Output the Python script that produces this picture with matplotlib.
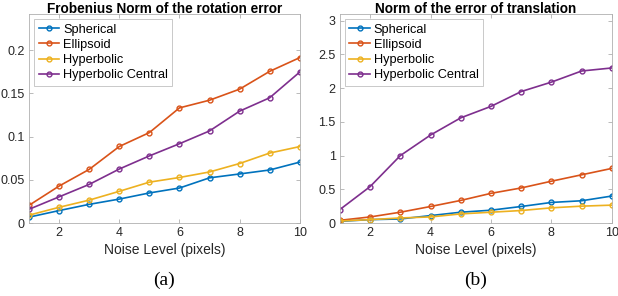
import numpy as np
import matplotlib
matplotlib.use("Agg")
import matplotlib.pyplot as plt

plt.rcParams['font.family'] = ['Liberation Sans', 'DejaVu Sans']

noise = [1, 2, 3, 4, 5, 6, 7, 8, 9, 10]
labels = ['Spherical', 'Ellipsoid', 'Hyperbolic', 'Hyperbolic Central']
colors = ['#0072BD', '#D95319', '#EDB120', '#7E2F8E']

rot_spherical = [0.0068, 0.0144, 0.0216, 0.0277, 0.0348, 0.0405, 0.0523, 0.0568, 0.0614, 0.0705]
rot_ellipsoid = [0.0205, 0.0428, 0.0621, 0.0886, 0.1047, 0.1333, 0.1422, 0.1550, 0.1756, 0.1915]
rot_hyperbolic = [0.0091, 0.0182, 0.0265, 0.0367, 0.0473, 0.0527, 0.0591, 0.0689, 0.0810, 0.0885]
rot_central = [0.0159, 0.0303, 0.0447, 0.0625, 0.0777, 0.0918, 0.1066, 0.1295, 0.1450, 0.1748]

tr_spherical = [0.025, 0.05, 0.06, 0.11, 0.16, 0.19, 0.245, 0.305, 0.33, 0.40]
tr_ellipsoid = [0.04, 0.09, 0.16, 0.245, 0.335, 0.44, 0.52, 0.62, 0.715, 0.81]
tr_hyperbolic = [0.03, 0.05, 0.075, 0.09, 0.135, 0.16, 0.185, 0.225, 0.25, 0.265]
tr_central = [0.20, 0.54, 1.0, 1.305, 1.56, 1.73, 1.95, 2.09, 2.255, 2.30]

rot_series = [rot_spherical, rot_ellipsoid, rot_hyperbolic, rot_central]
tr_series = [tr_spherical, tr_ellipsoid, tr_hyperbolic, tr_central]

fig = plt.figure(figsize=(6.18, 2.96), dpi=100)
ax1 = fig.add_axes([0.047, 0.2466, 0.438, 0.706])
ax2 = fig.add_axes([0.550, 0.2466, 0.440, 0.706])

grey = '#262626'
edge = '#b0b0b0'


def style(ax, title, ylim, yticks, yticklabels, caption):
    ax.set_xlim(1, 10)
    ax.set_ylim(*ylim)
    ax.set_xticks([2, 4, 6, 8, 10])
    ax.set_yticks(yticks)
    ax.set_yticklabels(yticklabels)
    ax.tick_params(direction='in', length=3, width=0.6, colors=edge,
                   labelcolor=grey, labelsize=9, top=True, right=True, pad=3)
    for s in ax.spines.values():
        s.set_color(edge)
        s.set_linewidth(0.6)
    ax.set_title(title, fontsize=9.8, fontweight='bold', pad=0.5, color='black')
    ax.set_xlabel('Noise Level (pixels)', fontsize=10, color=grey, labelpad=3)
    leg = ax.legend(loc='upper left', fontsize=9.2, handlelength=1.6,
                    handletextpad=0.3, borderpad=0.35, labelspacing=0.25,
                    fancybox=False, borderaxespad=0.4)
    leg.get_frame().set_edgecolor(edge)
    leg.get_frame().set_linewidth(0.6)
    ax.text(0.5, -0.275, caption, transform=ax.transAxes, ha='center', va='center',
            fontsize=14, family='Liberation Serif')


for vals, lab, c in zip(rot_series, labels, colors):
    ax1.plot(noise, vals, color=c, marker='o', markersize=3.5, markerfacecolor='none',
             markeredgewidth=1, linewidth=1.2, label=lab)
for vals, lab, c in zip(tr_series, labels, colors):
    ax2.plot(noise, vals, color=c, marker='o', markersize=3.5, markerfacecolor='none',
             markeredgewidth=1, linewidth=1.2, label=lab)

style(ax1, 'Frobenius Norm of the rotation error', (0, 0.242),
      [0, 0.05, 0.1, 0.15, 0.2], ['0', '0.05', '0.1', '0.15', '0.2'], '(a)')
style(ax2, 'Norm of the error of translation', (0, 3.1),
      [0, 0.5, 1, 1.5, 2, 2.5, 3], ['0', '0.5', '1', '1.5', '2', '2.5', '3'], '(b)')

fig.savefig('out.png', dpi=100)
